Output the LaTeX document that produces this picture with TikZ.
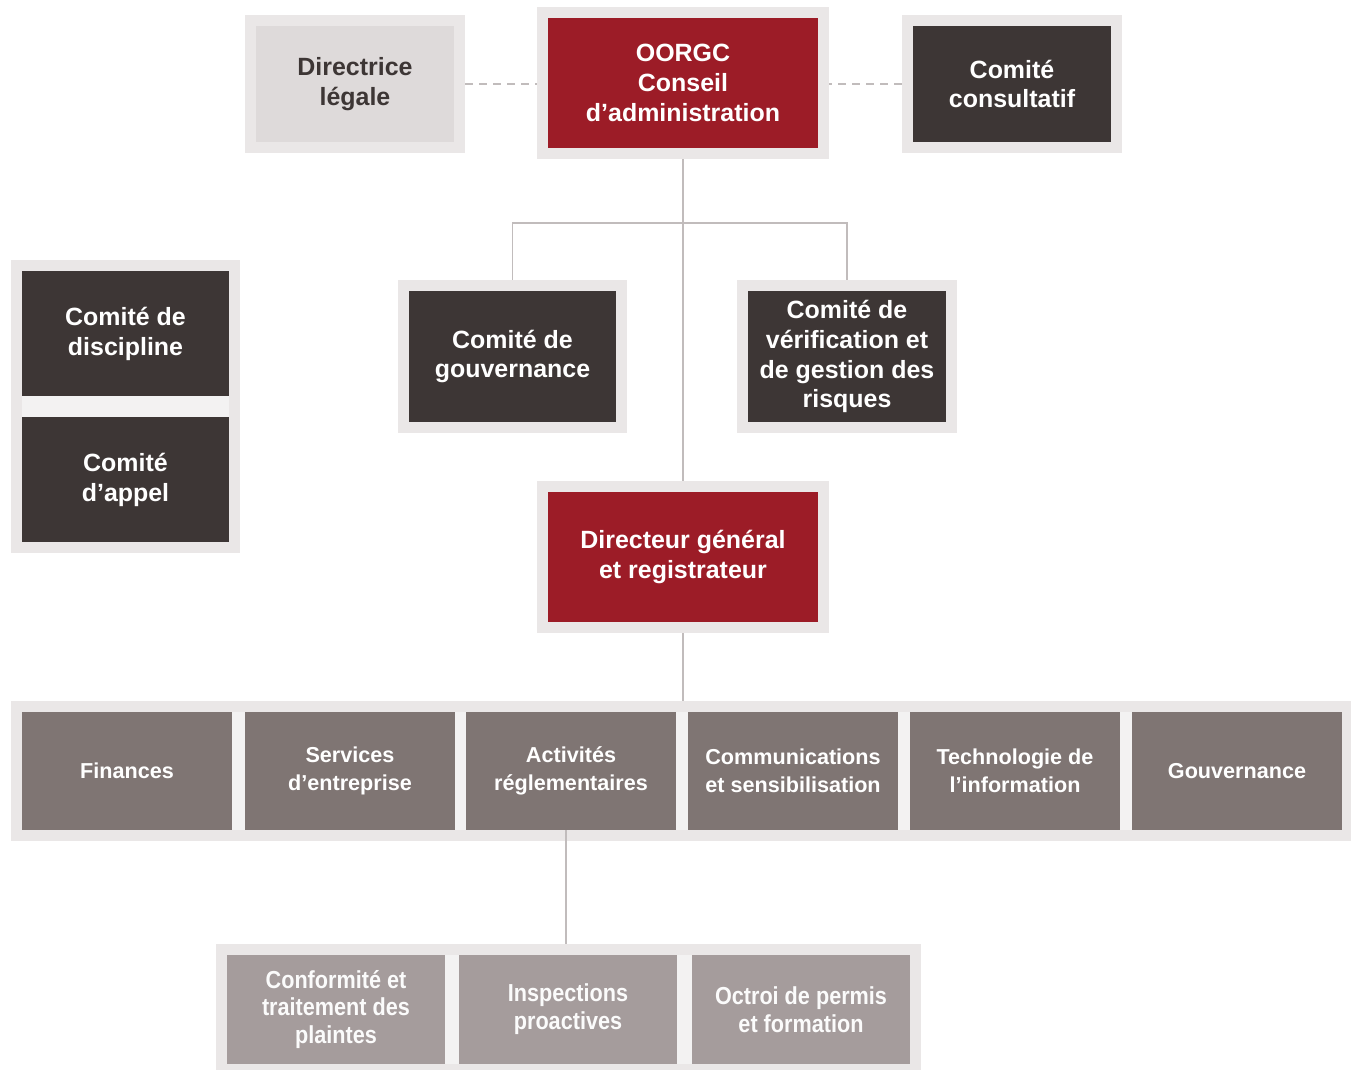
\documentclass[tikz,border=0pt]{standalone}
\usepackage{fontspec}
\setmainfont{Liberation Sans}
\newfontfamily\narrowfont{Liberation Sans}[FakeStretch=0.88]
\usetikzlibrary{fit,backgrounds}

\definecolor{framegray}{HTML}{EAE7E7}
\definecolor{bandgray}{HTML}{F3F2F2}
\definecolor{boardred}{HTML}{9C1C27}
\definecolor{darkbox}{HTML}{3D3635}
\definecolor{midbox}{HTML}{7F7573}
\definecolor{palebox}{HTML}{A59C9C}
\definecolor{legalgray}{HTML}{DEDADA}
\definecolor{linkgray}{HTML}{C1BCBC}

\begin{document}
\begin{tikzpicture}[x=0.02cm,
					y=-0.02cm,
					font=\bfseries\fontsize{14.2}{17}\selectfont,
					box/.style={rectangle,align=center,inner sep=0pt,text=white},
					framed box/.style={box,draw=framegray,line width=0.22cm},
					group frame/.style={rectangle,inner sep=0.11cm,draw=framegray,
					                    line width=0.22cm,fill=bandgray},
					unit box/.style={box,fill=midbox,minimum width=4.2cm,minimum height=2.36cm,
					                 font=\bfseries\fontsize{12.3}{15.9}\selectfont},
					sub box/.style={box,fill=palebox,minimum width=4.36cm,minimum height=2.18cm,
					                text=white!96!palebox,
					                font=\narrowfont\bfseries\fontsize{14}{15.9}\selectfont},
					link/.style={draw=linkgray,line width=1.1pt},
					dashlink/.style={link,dash pattern=on 4.5pt off 3.5pt}]

  \useasboundingbox (0,0) rectangle (1351,1069);

  % top row
  \node[framed box,fill=legalgray,text=darkbox,minimum width=4.18cm,minimum height=2.54cm]
    (legal) at (355,84) {Directrice\\légale};
  \node[framed box,fill=boardred,minimum width=5.62cm,minimum height=2.82cm]
    (board) at (683,83) {OORGC\\Conseil\\d’administration};
  \node[framed box,fill=darkbox,minimum width=4.18cm,minimum height=2.54cm]
    (advisory) at (1012,84) {Comité\\consultatif};

  % board committees
  \node[framed box,fill=darkbox,minimum width=4.36cm,minimum height=2.84cm]
    (govcom) at (512.5,356.5) {Comité de\\gouvernance};
  \node[framed box,fill=darkbox,minimum width=4.18cm,minimum height=2.84cm]
    (audit) at (847,356.5) {Comité de\\vérification et\\de gestion des\\risques};

  % statutory committees
  \node[box,fill=darkbox,minimum width=4.14cm,minimum height=2.5cm]
    (discipline) at (125.5,333.5) {Comité de\\discipline};
  \node[box,fill=darkbox,minimum width=4.14cm,minimum height=2.5cm]
    (appeal) at (125.5,479.5) {Comité\\d’appel};

  % registrar
  \node[framed box,fill=boardred,minimum width=5.62cm,minimum height=2.82cm]
    (registrar) at (683,557) {Directeur général\\et registrateur};

  % departments
  \node[unit box] (finance) at (127,771) {Finances};
  \node[unit box] (corp) at (350,771) {Services\\d’entreprise};
  \node[unit box] (regact) at (571,771) {Activités\\réglementaires};
  \node[unit box] (comms) at (793,771) {Communications\\et sensibilisation};
  \node[unit box] (infotech) at (1015,771) {Technologie de\\l’information};
  \node[unit box] (governance) at (1237,771) {Gouvernance};

  % regulatory units
  \node[sub box] (compliance) at (336,1009.5) {Conformité et\\traitement des\\plaintes};
  \node[sub box] (inspect) at (568,1009.5) {Inspections\\proactives};
  \node[sub box] (licence) at (801,1009.5) {Octroi de permis\\et formation};

  \begin{scope}[on background layer]
    \node[group frame,fit=(discipline)(appeal)] (statframe) {};
    \node[group frame,fit=(finance)(governance)] (deptframe) {};
    \node[group frame,fit=(compliance)(licence)] (regframe) {};

    \coordinate (split) at (683,223);
    \path[dashlink] (legal.east) -- (legal.east -| board.west);
    \path[dashlink] (advisory.west) -- (advisory.west -| board.east);
    \path[link] (board.south) -- (registrar.north);
    \path[link] (govcom.north) |- (split) -| (audit.north);
    \path[link] (registrar.south) -- (registrar.south |- deptframe.north);
    \path[link] ([xshift=-0.1cm]regact.south) -- ([xshift=-0.1cm]regact.south |- regframe.north);
  \end{scope}
\end{tikzpicture}
\end{document}
